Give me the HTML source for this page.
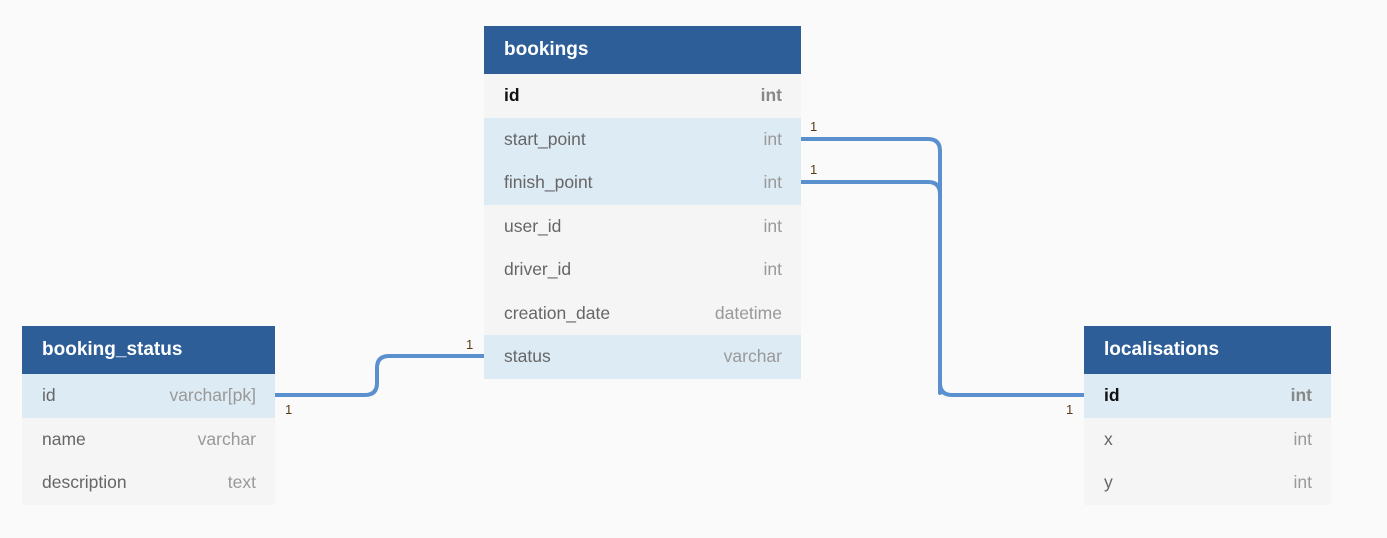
<!DOCTYPE html>
<html><head><meta charset="utf-8"><style>
html,body{margin:0;padding:0;background:#fafafa;width:1387px;height:538px;overflow:hidden;font-family:"Liberation Sans",sans-serif;}
.t{position:absolute;}
.h{background:#2d5e98;color:#fff;font-weight:bold;font-size:19px;height:48px;line-height:48px;padding-left:20px;box-sizing:border-box;}
.r{height:43.5px;line-height:43.5px;background:#f5f5f5;color:#666;font-size:17.5px;padding:0 19px 0 20px;display:flex;justify-content:space-between;box-sizing:border-box;}
.r span:last-child{color:#999;}
.r.hl{background:#ddebf4;}
.r.b span:first-child{color:#111;font-weight:bold;}
.r.b span:last-child{font-weight:bold;color:#888;}
svg{position:absolute;left:0;top:0;}
.n{font-size:13px;fill:#5a3a10;font-family:"Liberation Sans",sans-serif;}
</style></head><body>
<svg width="1387" height="538">
<g fill="none" stroke="#5b90cf" stroke-width="4" stroke-linecap="round">
<path d="M801 139 H928 Q940 139 940 151 V383 Q940 395 952 395 H1084"/>
<path d="M801 182 H928 Q940 182 940 194 V393"/>
<path d="M275 395 H365 Q377 395 377 383 V368 Q377 356 389 356 H484"/>
</g>
<text class="n" x="810" y="131">1</text>
<text class="n" x="810" y="174">1</text>
<text class="n" x="466" y="349">1</text>
<text class="n" x="285" y="414">1</text>
<text class="n" x="1066" y="414">1</text>
</svg>
<div class="t" style="left:484px;top:26px;width:317px;">
<div class="h">bookings</div>
<div class="r b"><span>id</span><span>int</span></div>
<div class="r hl"><span>start_point</span><span>int</span></div>
<div class="r hl"><span>finish_point</span><span>int</span></div>
<div class="r"><span>user_id</span><span>int</span></div>
<div class="r"><span>driver_id</span><span>int</span></div>
<div class="r"><span>creation_date</span><span>datetime</span></div>
<div class="r hl"><span>status</span><span>varchar</span></div>
</div>
<div class="t" style="left:22px;top:326px;width:253px;">
<div class="h">booking_status</div>
<div class="r hl"><span>id</span><span>varchar[pk]</span></div>
<div class="r"><span>name</span><span>varchar</span></div>
<div class="r"><span>description</span><span>text</span></div>
</div>
<div class="t" style="left:1084px;top:326px;width:247px;">
<div class="h">localisations</div>
<div class="r hl b"><span>id</span><span>int</span></div>
<div class="r"><span>x</span><span>int</span></div>
<div class="r"><span>y</span><span>int</span></div>
</div>
</body></html>
